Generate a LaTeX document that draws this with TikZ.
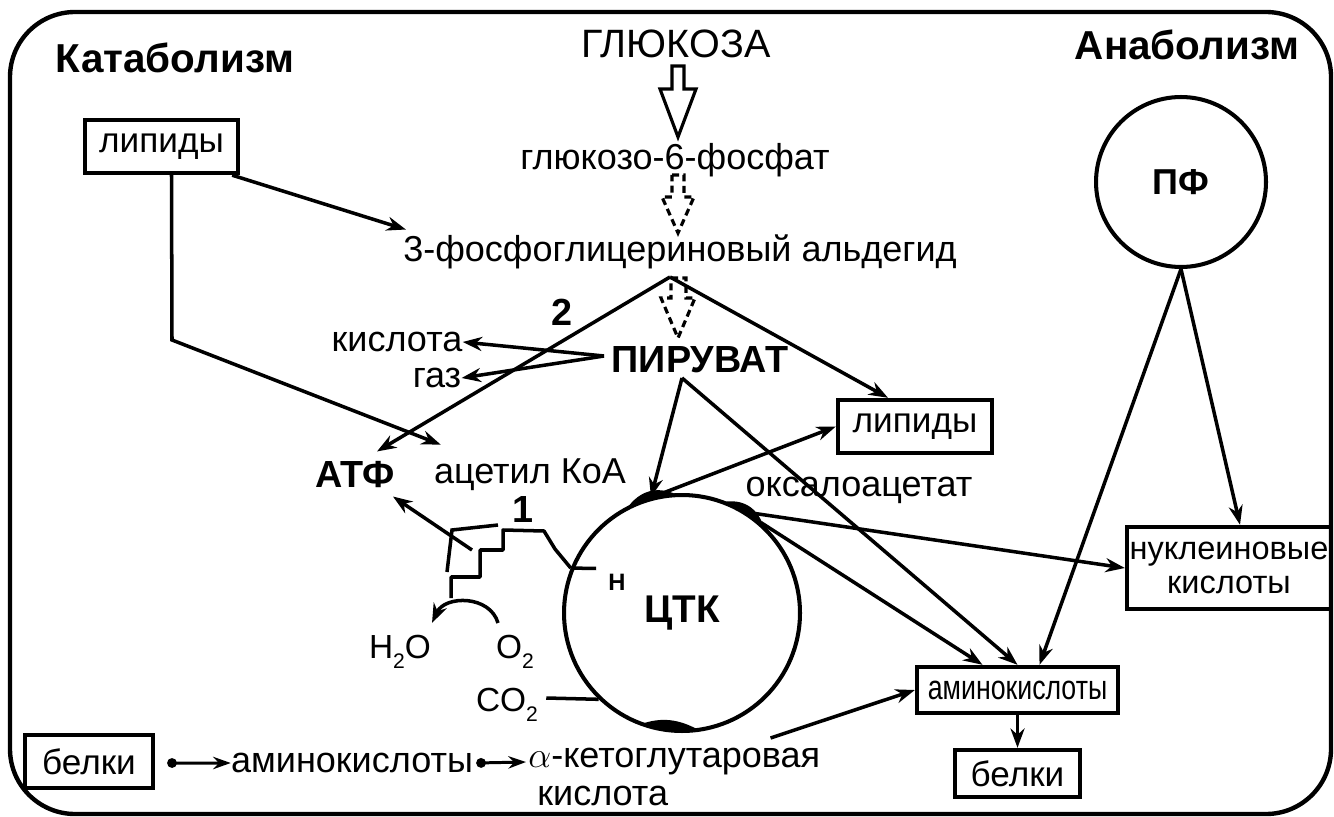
\documentclass[tikz,border=0pt]{standalone}
\usepackage{fontspec}
\setmainfont{Liberation Sans}
\usetikzlibrary{arrows.meta,calc}
\newcommand{\lowix}[1]{\raisebox{-0.3em}{\fontsize{12}{12}\selectfont #1}}
\begin{document}
\begin{tikzpicture}[x=0.02cm,y=-0.02cm,
  lbl/.style={inner sep=0pt,font=\fontsize{20.5}{24}\selectfont},
  blbl/.style={inner sep=0pt,font=\bfseries\fontsize{21.5}{25}\selectfont},
  ttl/.style={inner sep=0pt,font=\bfseries\fontsize{23}{27}\selectfont},
  bx/.style={draw,line width=2.5pt,inner sep=0pt,font=\fontsize{20}{24}\selectfont},
  ln/.style={line width=2pt},
  con/.style={line width=2pt,-{Stealth[length=11pt,width=8pt]}},
  dcon/.style={line width=1.7pt,{Circle[length=5.5pt]}-{Stealth[length=10pt,width=7pt]}},
  hol/.style={line width=1.8pt,line join=miter,fill=white},
  cyc/.style={draw,circle,line width=2.3pt,inner sep=0pt},
]
\useasboundingbox (0,0) rectangle (1334,817);
\fill[white] (0,0) rectangle (1334,817);
\draw[line width=2.5pt,rounded corners=1.3cm] (10,12) rectangle (1331,814);

% titles
\node[ttl] (kat) at (175,58) {Катаболизм};
\node[ttl] (ana) at (1187,45) {Анаболизм};

% main chain
\node[lbl,font=\fontsize{22.5}{26}\selectfont] (glc) at (676,44) {ГЛЮКОЗА};
\node[lbl] (g6p) at (675,160) {глюкозо-6-фосфат};
\node[lbl] (fga) at (680,252) {3-фосфоглицериновый альдегид};
\node[blbl] (pyr) at (700,360) {ПИРУВАТ};
\node[lbl] (kisl) at (397,342) {кислота};
\node[lbl] (gaz) at (437,378) {газ};
\node[blbl] (n2) at (562,312) {2};
\node[blbl] (atf) at (355,475) {АТФ};
\node[lbl] (acoa) at (530,475) {ацетил КоА};
\node[lbl] (oxa) at (859,490) {оксалоацетат};
\node[blbl] (n1) at (523,510) {1};

% circles
\node[cyc,minimum size=4.72cm,font=\bfseries\fontsize{22}{26}\selectfont] (ctk) at (682,613) {ЦТК};
\node[cyc,minimum size=3.4cm,font=\bfseries\fontsize{20.5}{24}\selectfont] (pf) at (1181,182) {ПФ};

% boxes
\node[bx,minimum width=3.06cm,minimum height=1.06cm] (lipL) at (161.5,146.5) {липиды};
\node[bx,minimum width=3.08cm,minimum height=1.06cm] (lipR) at (915,426.5) {липиды};
\node[bx,minimum width=4.08cm,minimum height=1.64cm,align=center,font=\fontsize{18.5}{19.5}\selectfont] (nucl) at (1229,568) {нуклеиновые\\кислоты};
\node[bx,minimum width=4.02cm,minimum height=0.92cm,font=\fontsize{19.5}{22}\selectfont] (amino) at (1017.5,690) {\scalebox{0.78}[1]{аминокислоты}};
\node[bx,minimum width=2.5cm,minimum height=0.94cm] (belR) at (1017.5,773.5) {белки};
\node[bx,minimum width=2.56cm,minimum height=1.06cm] (belL) at (89,761.5) {белки};

% bottom row
\node[lbl] (aminoB) at (352,763) {аминокислоты};
\node[lbl,anchor=west] (akg) at (528,762) {$\alpha$-кетоглутаровая};
\node[lbl,anchor=west] (akg2) at (537,796) {кислота};

% respiration
\node[lbl,font=\fontsize{19}{22}\selectfont] (h2o) at (400,652) {H\lowix{2}O};
\node[lbl,font=\fontsize{19}{22}\selectfont] (o2) at (515,652) {O\lowix{2}};
\node[lbl,font=\fontsize{19}{22}\selectfont] (co2) at (507,705) {CO\lowix{2}};
\node[blbl,font=\bfseries\fontsize{13.5}{15}\selectfont] (hh) at (617,582) {H};

% hollow arrows
\draw[hol] (672,66)--(684,66)--(684,89)--(696,89)--(678,137)--(660,89)--(672,89)--cycle;
\draw[hol,dash pattern=on 4pt off 2.5pt] (672,175)--(684,175)--(684,197)--(694,197)--(678,233)--(662,197)--(672,197)--cycle;
\draw[hol,dash pattern=on 4pt off 2.5pt] (671,278)--(686,278)--(686,298)--(695,298)--(678,338)--(661,298)--(671,298)--cycle;

% coordinates
\coordinate (fgaS) at (670,277);
\coordinate (pyrS) at (682,378);
\coordinate (pyrW) at (604,356);

% connectors
\draw[con] ($(lipL.south east)+(-8,0)$) -- ($(fga.north west)+(3,-5)$);
\draw[con] ($(lipL.south)+(10,0)$) -- (172,340) -- ($(acoa.north west)+(7,-14)$);
\draw[con] (fgaS) -- ($(atf.north east)+(-18,-10)$);
\draw[con] (fgaS) -- ($(lipR.north)+(-27,0)$);
\draw[con] (pyrW) -- (kisl.east);
\draw[con] (pyrW) -- (gaz.east);
\draw[con] (pyrS) -- (ctk.105);
\draw[con] (pyrS) -- (amino.north);
\draw[con] (ctk.103) -- (lipR.west);
\draw[con] (ctk.57) -- (nucl.west);
\draw[con] (ctk.49) -- ($(amino.north)+(-35,0)$);
\draw[con] (pf.south) -- ($(nucl.north)+(11,0)$);
\draw[con] (pf.south) -- ($(amino.north)+(22,0)$);
\draw[con] ($(akg.east)+(-50,-24)$) -- (amino.west);
\draw[con] (amino.south) -- (belR.north);
\draw[dcon] ($(belL.east)+(12,1.5)$) -- (aminoB.west);
\draw[dcon] ($(aminoB.east)+(3,0)$) -- ($(akg.west)+(-2,0)$);

% thickenings on the cycle
\begin{scope}[shift={(ctk.center)}]
\fill (92:2.36cm) arc[start angle=92,end angle=118,radius=2.36cm] .. controls (109:2.6cm) and (101:2.6cm) .. (92:2.36cm) -- cycle;
\fill (46:2.36cm) arc[start angle=46,end angle=70,radius=2.36cm] .. controls (62:2.6cm) and (54:2.6cm) .. (46:2.36cm) -- cycle;
\fill (250:2.36cm) arc[start angle=250,end angle=278,radius=2.36cm] .. controls (268:2.12cm) and (259:2.12cm) .. (250:2.36cm) -- cycle;
\end{scope}

% respiratory chain
\draw[ln,line join=round] (ctk.158) -- (555,549) -- (544,531) -- (503,530) -- (503,550) -- (480,550) -- (480,577) -- (451,577) -- (451,598);
\draw[ln] (ctk.158) -- ($(hh.north west)+(-12,-5)$);
\draw[ln] (498,525) -- (452,530) -- (447,572);
\draw[con] (472,550) -- ($(atf.south east)+(-2,8)$);
\draw[con] ($(o2.north)+(-17,-12)$) .. controls (490,595) and (445,595) .. ($(h2o.north)+(32,-12)$);
\draw[ln] ($(co2.east)+(8,-7)$) -- (ctk.226);
\end{tikzpicture}
\end{document}
